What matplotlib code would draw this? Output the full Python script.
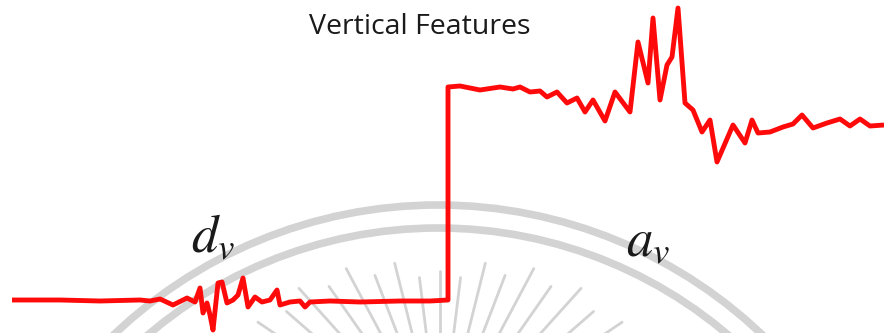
import numpy as np
import matplotlib
matplotlib.use("Agg")
import matplotlib.pyplot as plt
from matplotlib.patches import Arc

plt.rcParams["mathtext.fontset"] = "stix"

# Signal trace: sample position and amplitude (height above the bottom edge)
xs = [12, 60, 100, 140, 150, 160, 173, 187, 195, 200, 203, 207, 210, 213, 218,
      222, 227, 233, 238, 243, 248, 255, 262, 270, 277, 280, 290, 300, 305, 310,
      330, 360, 400, 430, 448,
      448, 460, 480, 500, 513, 520, 530, 540, 547, 557, 567, 577, 585, 593, 605,
      615, 630, 638, 648, 653, 660, 667, 672, 678, 685, 693, 702, 710, 717, 733,
      745, 752, 758, 770, 783, 793, 802, 813, 827, 840, 850, 860, 870, 884]
amp = [33, 33, 32, 33, 32, 34, 28, 35, 31, 45, 20, 30, 18, 3, 50,
       51, 30, 33, 38, 55, 26, 36, 31, 33, 43, 28, 31, 32, 26, 31,
       32, 31, 32, 32, 33,
       246, 247, 243, 246, 244, 246, 241, 242, 236, 241, 230, 235, 221, 233, 212,
       241, 221, 291, 250, 315, 233, 268, 276, 325, 230, 223, 201, 213, 171, 208,
       190, 213, 200, 201, 206, 209, 218, 205, 210, 214, 207, 214, 207, 208]

title = "Vertical Features"
labels = [r"$d_v$", r"$a_v$"]
label_pos = [(213, 96), (648, 92)]

fig = plt.figure(figsize=(8.84, 3.33), dpi=100)
ax = fig.add_axes([0, 0, 1, 1])
ax.set_xlim(0, 884)
ax.set_ylim(0, 333)
ax.axis("off")

# faded seal in the background: two rings and a sunburst
grey = "#d3d3d3"
cx, cy = 438, -342
for r in (470, 447):
    ax.add_patch(Arc((cx, cy), 2 * r, 2 * r, theta1=0, theta2=180,
                     color=grey, lw=5.5, zorder=1))
sx, sy = 440, -112
for i, ang in enumerate(np.arange(20, 161, 7)):
    a = np.radians(ang)
    r1 = 168 + 55 * abs(np.cos(a)) + (6 if i % 2 == 0 else -6)
    ax.plot([sx + 90 * np.cos(a), sx + r1 * np.cos(a)],
            [sy + 90 * np.sin(a), sy + r1 * np.sin(a)],
            color=grey, lw=2.0, zorder=1, solid_capstyle="round")

ax.plot(xs, amp, color="#ff0a0a", lw=3.5, zorder=3,
        solid_joinstyle="round", solid_capstyle="butt")

ax.text(420, 306, title, ha="center", va="center", fontsize=20.5,
        family="Open Sans", color="#1a1a1a")
for lab, (lx, ly) in zip(labels, label_pos):
    ax.text(lx, ly, lab, ha="center", va="center", fontsize=38, color="#1a1a1a")

fig.savefig("out.png", dpi=100)
